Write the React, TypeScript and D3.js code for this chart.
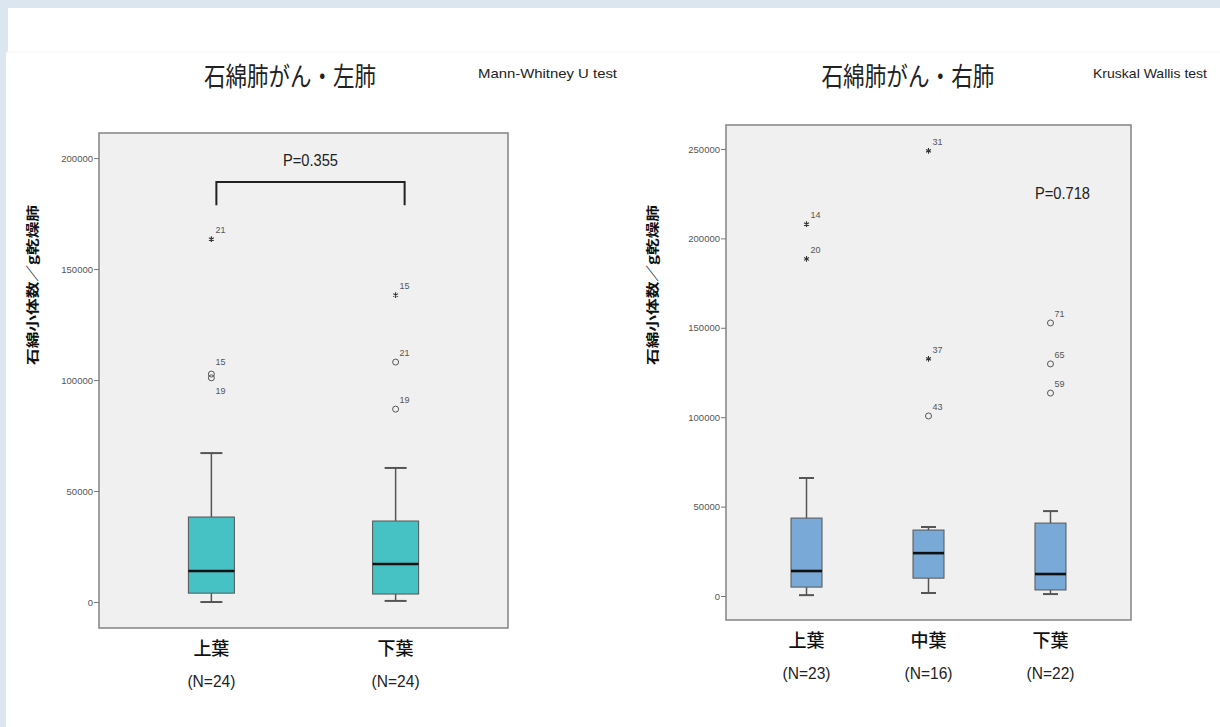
import React, { useEffect, useRef } from 'react';
import * as d3 from 'd3';

// 左肺 (Mann-Whitney U test)
const leftCategories = ['上葉', '下葉'];
const leftCounts = [24, 24];
const leftLow = [0, 500];
const leftQ1 = [4000, 3600];
const leftMedian = [14000, 17100];
const leftQ3 = [38300, 36500];
const leftHigh = [67100, 60400];
const leftOutliers = [
  { cat: '上葉', value: 163500, id: '21', extreme: true },
  { cat: '上葉', value: 102700, id: '15', extreme: false },
  { cat: '上葉', value: 101000, id: '19', extreme: false },
  { cat: '下葉', value: 138300, id: '15', extreme: true },
  { cat: '下葉', value: 108100, id: '21', extreme: false },
  { cat: '下葉', value: 86900, id: '19', extreme: false },
];
const leftTicks = [0, 50000, 100000, 150000, 200000];

// 右肺 (Kruskal Wallis test)
const rightCategories = ['上葉', '中葉', '下葉'];
const rightCounts = [23, 16, 22];
const rightLow = [500, 1700, 1100];
const rightQ1 = [5000, 10000, 3400];
const rightMedian = [14000, 24000, 12300];
const rightQ3 = [43600, 36900, 40800];
const rightHigh = [66000, 38600, 47500];
const rightOutliers = [
  { cat: '上葉', value: 208000, id: '14', extreme: true },
  { cat: '上葉', value: 188500, id: '20', extreme: true },
  { cat: '中葉', value: 248900, id: '31', extreme: true },
  { cat: '中葉', value: 132600, id: '37', extreme: true },
  { cat: '中葉', value: 100700, id: '43', extreme: false },
  { cat: '下葉', value: 152700, id: '71', extreme: false },
  { cat: '下葉', value: 129800, id: '65', extreme: false },
  { cat: '下葉', value: 113500, id: '59', extreme: false },
];
const rightTicks = [0, 50000, 100000, 150000, 200000, 250000];

const yLabel = '石綿小体数／g乾燥肺';
const JP = '"Noto Sans CJK JP", "Noto Sans", sans-serif';
const NARROW = '"Liberation Sans Narrow", "Liberation Sans", Arial, sans-serif';

const Panel = (p: any) => {
  const axisRef = useRef<SVGGElement>(null);
  const y = d3.scaleLinear().domain(p.yDomain).range([p.bottom, p.top]);
  const x = d3.scalePoint<string>().domain(p.categories).range([p.left, p.right]).padding(p.pad);

  useEffect(() => {
    const g = d3.select(axisRef.current);
    g.selectAll('*').remove();
    g.call(d3.axisLeft(y).tickValues(p.ticks).tickSize(5).tickSizeOuter(0).tickPadding(1).tickFormat(d3.format('d')) as any);
    g.select('.domain').remove();
    g.selectAll('line').attr('stroke', '#777');
    g.selectAll('text').attr('fill', '#555').attr('font-size', 9.5).attr('font-family', NARROW);
  }, []);

  const star = d3.symbol().type(d3.symbolAsterisk).size(22);

  return (
    <g>
      <text x={p.titleX} y={86} textAnchor="middle" fontSize={26} fontFamily={JP} fill="#222"
        textLength={p.titleW} lengthAdjust="spacingAndGlyphs">{p.title}</text>
      <text x={p.testX} y={78} fontSize={13} fontFamily={NARROW} fill="#222"
        textLength={p.testW} lengthAdjust="spacingAndGlyphs">{p.test}</text>

      <rect x={p.left} y={p.top} width={p.right - p.left} height={p.bottom - p.top}
        fill="#f0f0f0" stroke="#8a8a8a" strokeWidth={1.6} />
      <g ref={axisRef} transform={`translate(${p.left},0)`} />
      <text transform={`translate(${p.labelX},${p.labelY}) rotate(-90)`} textAnchor="middle"
        fontSize={13} fontWeight="bold" fontFamily={JP} fill="#111" textLength={160} lengthAdjust="spacingAndGlyphs">{yLabel}</text>

      {p.categories.map((c: string, i: number) => {
        const cx = x(c)!;
        const hw = p.boxW / 2;
        const cw = p.capW / 2;
        return (
          <g key={c}>
            <line x1={cx} x2={cx} y1={y(p.high[i])} y2={y(p.q3[i])} stroke="#555" strokeWidth={1.5} />
            <line x1={cx} x2={cx} y1={y(p.q1[i])} y2={y(p.low[i])} stroke="#555" strokeWidth={1.5} />
            <line x1={cx - cw} x2={cx + cw} y1={y(p.high[i])} y2={y(p.high[i])} stroke="#555" strokeWidth={2} />
            <line x1={cx - cw} x2={cx + cw} y1={y(p.low[i])} y2={y(p.low[i])} stroke="#555" strokeWidth={2} />
            <rect x={cx - hw} y={y(p.q3[i])} width={p.boxW} height={y(p.q1[i]) - y(p.q3[i])}
              fill={p.fill} stroke="#555" strokeWidth={1} />
            <line x1={cx - hw} x2={cx + hw} y1={y(p.median[i])} y2={y(p.median[i])} stroke="#111" strokeWidth={2.6} />
            <text x={cx} y={p.bottom + 27} textAnchor="middle" fontSize={18} fontWeight={500} fontFamily={JP} fill="#111">{c}</text>
            <text x={cx} y={p.bottom + 59} textAnchor="middle" fontSize={16} fontFamily={NARROW} fill="#222"
              textLength={48} lengthAdjust="spacingAndGlyphs">{`(N=${p.counts[i]})`}</text>
          </g>
        );
      })}

      {p.outliers.map((o: any, i: number) => {
        const cx = x(o.cat)!;
        const cy = y(o.value);
        const near = p.outliers.find((q: any) => q !== o && q.cat === o.cat && Math.abs(y(q.value) - cy) < 8);
        const below = near && y(near.value) < cy;
        const above = near && !below;
        const ly = below ? cy + 16 : above ? cy - 9 : cy - 6;
        return (
          <g key={i}>
            {o.extreme
              ? <path d={star()!} transform={`translate(${cx},${cy})`} stroke="#333" strokeWidth={1.1} fill="none" />
              : <circle cx={cx} cy={cy} r={3} fill="none" stroke="#555" strokeWidth={1} />}
            <text x={cx + 4} y={ly} fontSize={9} fontFamily={NARROW} fill="#555">{o.id}</text>
          </g>
        );
      })}

      {p.children ? p.children(x, y) : null}
    </g>
  );
};

export default function App() {
  return (
    <svg width={1220} height={727} style={{ position: 'absolute', left: 0, top: 0 }}>
      <rect width={1220} height={727} fill="#dce6f1" />
      <rect x={8} y={8} width={1212} height={719} fill="#fff" />
      <rect x={6} y={52} width={1214} height={675} fill="#fff" />
      <line x1={6} x2={1220} y1={52} y2={52} stroke="#f6f6f6" />

      <Panel
        categories={leftCategories} counts={leftCounts} low={leftLow} q1={leftQ1} median={leftMedian}
        q3={leftQ3} high={leftHigh} outliers={leftOutliers} ticks={leftTicks}
        yDomain={[-11700, 211300]} left={99} right={508} top={133} bottom={628} pad={0.61}
        boxW={46} capW={22} fill="#47c2c4" labelX={37} labelY={285}
        title="石綿肺がん・左肺" titleX={290} titleW={172}
        test="Mann-Whitney U test" testX={478} testW={139}
      >
        {(x: any, y: any) => {
          const x1 = x(leftCategories[0]) + 5;
          const x2 = x(leftCategories[1]) + 9;
          const yt = y(189200);
          const yb = y(178800);
          return (
            <g>
              <path d={`M${x1},${yb}V${yt}H${x2}V${yb}`} fill="none" stroke="#222" strokeWidth={2} />
              <text x={(x1 + x2) / 2} y={yt - 16} textAnchor="middle" fontSize={17} fontFamily={NARROW} fill="#222"
                textLength={55} lengthAdjust="spacingAndGlyphs">P=0.355</text>
            </g>
          );
        }}
      </Panel>

      <Panel
        categories={rightCategories} counts={rightCounts} low={rightLow} q1={rightQ1} median={rightMedian}
        q3={rightQ3} high={rightHigh} outliers={rightOutliers} ticks={rightTicks}
        yDomain={[-13400, 263400]} left={726} right={1131} top={125} bottom={620} pad={0.66}
        boxW={31} capW={15} fill="#79a9d7" labelX={657} labelY={285}
        title="石綿肺がん・右肺" titleX={908} titleW={173}
        test="Kruskal Wallis test" testX={1093} testW={114}
      >
        {() => (
          <text x={1035} y={199} fontSize={17} fontFamily={NARROW} fill="#222"
            textLength={55} lengthAdjust="spacingAndGlyphs">P=0.718</text>
        )}
      </Panel>
    </svg>
  );
}
